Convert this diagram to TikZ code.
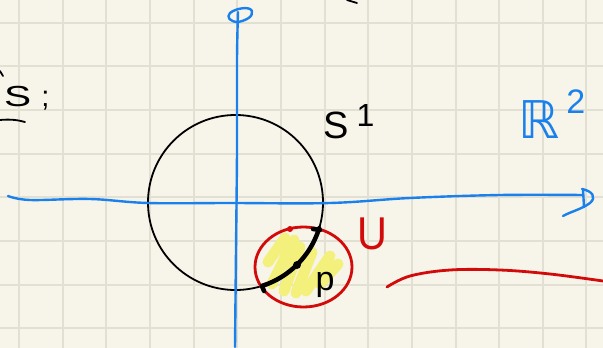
\documentclass[tikz,border=0pt]{standalone}
\usepackage{fontspec}
\setmainfont{Liberation Sans}
\newfontfamily\symfont{DejaVu Sans}
\usetikzlibrary{calc}
\definecolor{paper}{HTML}{F7F5EA}
\definecolor{gridc}{HTML}{E2E0D3}
\definecolor{penblue}{HTML}{1A80EC}
\definecolor{penred}{HTML}{D20A0A}
\definecolor{hilite}{HTML}{F4F07C}
\tikzset{
  gridline/.style={draw=gridc,line width=2pt},
  axis/.style={draw=penblue,line width=2.4pt,line cap=round,line join=round},
  blacktext/.style={text=black,inner sep=0pt},
  bluetext/.style={text=penblue,inner sep=0pt},
  redtext/.style={text=penred,inner sep=0pt},
  redpen/.style={draw=penred,line width=2.8pt,line cap=round,line join=round},
  thinblack/.style={draw=black,line width=1.8pt,line cap=round},
  thickblack/.style={draw=black,line width=4.5pt,line cap=round},
  yellowstroke/.style={draw=hilite,line width=11pt,line cap=round},
}
\begin{document}
\begin{tikzpicture}[x=1pt,y=-1pt]
\useasboundingbox (0,0) rectangle (603,348);
\fill[paper] (0,0) rectangle (603,348);
% grid
\foreach \k in {0,...,13} {\draw[gridline] ({19+43.65*\k},0) -- ({19+43.65*\k},348);}
\foreach \k in {0,...,7} {\draw[gridline] (0,{22.7+43.65*\k}) -- (603,{22.7+43.65*\k});}
% yellow highlight
\draw[yellowstroke] (285,238) -- (268,262);
\draw[yellowstroke] (294,240) -- (272,284);
\draw[yellowstroke] (300,247) -- (284,291);
\draw[yellowstroke] (312,252) -- (296,293);
\draw[yellowstroke] (330,256) -- (306,291);
\draw[yellowstroke] (338,264) -- (320,284);
% circle S^1
\node[draw=black,line width=1.8pt,circle,minimum size=175pt,inner sep=0pt] (circ) at (235.5,202.5) {};
% axes
\coordinate (xstart) at (8,196);
\coordinate (xend) at (583,195);
\draw[axis] plot[smooth,tension=0.6] coordinates {(8,196) (30,200) (90,199) (148,203) (230,203) (330,203) (410,198) (500,195) (583,195)};
\draw[axis] (583,189) -- (584,207);
\draw[axis] (582,189) .. controls (592,191) and (597,197) .. (590,203) .. controls (582,209) and (570,212) .. (563,216);
\coordinate (ystart) at (235,347);
\coordinate (yend) at (238,12);
\draw[axis] plot[smooth,tension=0.6] coordinates {(235,347) (236,250) (237,150) (237,60) (238,12)};
\draw[axis] (238,22) .. controls (230,22) and (226,17) .. (230,13) .. controls (236,8) and (250,6) .. (252,11) .. controls (254,17) and (244,21) .. (238,22);
% neighbourhood U
\draw[redpen] (303.5,267) ellipse [x radius=48.5, y radius=40];
\fill[penred] (290,229) circle (3pt);
% thick arc on the circle
\draw[thickblack] plot[domain=17:72,samples=40] ({235.5+87.5*cos(\x)},{202.5+87.5*sin(\x)});
\draw[thickblack] (313,229) -- (320,230);
\draw[thickblack] (262,286) -- (264,291);
\node[circle,fill=black,inner sep=0pt,minimum size=8pt] (pdot) at (297,265) {};
% red curve at lower right
\draw[redpen] plot[smooth,tension=0.6] coordinates {(387,287) (410,276) (450,270) (500,270) (550,274) (603,281)};
% labels
\node[blacktext,anchor=west] (Slab) at (4,98) {\fontsize{29}{29}\selectfont \scalebox{1.4}[1]{S}\hspace{10pt};};
\draw[thinblack] (0,120) .. controls (10,119) and (18,120) .. (25,122);
\draw[thinblack] (0,71) -- (3,76);
\draw[thinblack] (347,0) -- (357,3);
\node[blacktext,anchor=west] (S1) at (323,122) {\fontsize{38}{38}\selectfont S\hspace{8pt}\raisebox{12pt}{\fontsize{32}{32}\selectfont 1}};
\node[bluetext,anchor=west] (R2) at (518,114) {{\symfont\fontsize{52}{52}\selectfont ℝ}\hspace{7pt}\raisebox{25pt}{\fontsize{34}{34}\selectfont 2}};
\node[blacktext] (plab) at (325,285) {\fontsize{34}{34}\selectfont p};
\node[redtext,xscale=0.9] (Ulab) at (372,234) {\fontsize{46}{46}\selectfont U};
\end{tikzpicture}
\end{document}
